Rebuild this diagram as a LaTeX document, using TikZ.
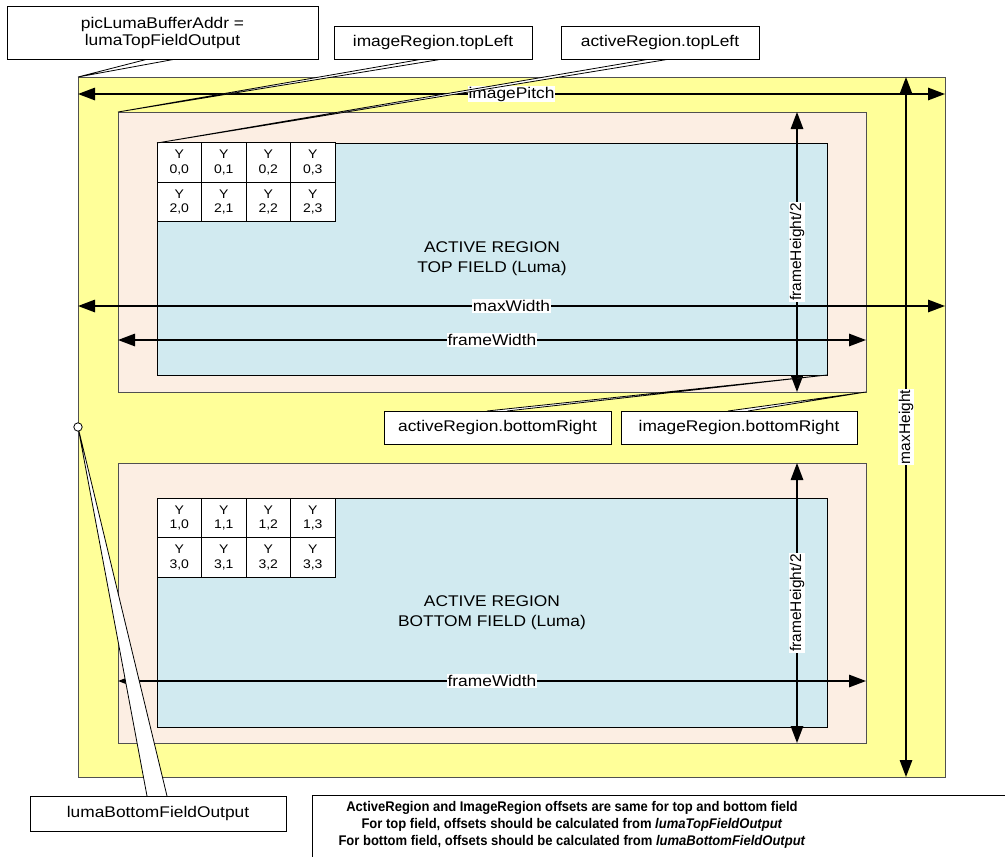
\documentclass[tikz,border=0pt]{standalone}
\usepackage{fontspec}
\setmainfont{Liberation Sans}[FakeStretch=1.12]
\newfontfamily\rotfont{Liberation Sans}
\newfontfamily\notefont{Liberation Sans}[FakeStretch=0.93]
\usetikzlibrary{arrows.meta,calc}
\definecolor{yel}{HTML}{FFFF99}
\definecolor{pnk}{HTML}{FCEEE3}
\definecolor{blu}{HTML}{D1EAF0}
\definecolor{edgegray}{HTML}{505050}
\begin{document}
\begin{tikzpicture}[x=1pt,y=-1pt,
  region/.style={draw=edgegray, line width=0.9pt, inner sep=0pt, outer sep=0pt, anchor=north west},
  cell/.style={draw=black, fill=white, line width=0.9pt, minimum width=44.5pt, minimum height=39.5pt, inner sep=0pt, outer sep=0pt, align=center, font=\fontsize{12.5}{14.5}\selectfont},
  callbox/.style={draw=black, fill=white, line width=0.8pt, inner sep=0pt, outer sep=0pt, align=center, font=\fontsize{15.5}{17}\selectfont},
  tail/.style={draw=black, fill=white, line width=0.8pt, line join=miter},
  dim/.style={line width=1.4pt, {Triangle[length=17pt,width=12.5pt]}-{Triangle[length=17pt,width=12.5pt]}},
  dimlab/.style={fill=white, inner sep=1pt, font=\fontsize{15.5}{17}\selectfont},
  rotlab/.style={fill=white, inner sep=1pt, rotate=90, font=\rotfont\fontsize{15.5}{17}\selectfont},
  bigtext/.style={align=center, font=\fontsize{15.5}{20}\selectfont},
]
\useasboundingbox (0,0) rectangle (1005,857);

% regions
\node[region, fill=yel, minimum width=867pt, minimum height=700pt] (buf) at (78,77) {};
\node[region, fill=pnk, minimum width=748pt, minimum height=280pt] (imgT) at (118,112) {};
\node[region, draw=black, fill=blu, minimum width=670pt, minimum height=232pt] (actT) at (157,143) {};
\node[region, fill=pnk, minimum width=748pt, minimum height=280pt] (imgB) at (118,463) {};
\node[region, draw=black, fill=blu, minimum width=670pt, minimum height=229pt] (actB) at (157,498) {};

% grids
\foreach \c [count=\i from 0] in {179.25,223.75,268.25,312.75}{
  \node[cell] (t0\i) at (\c,162.5) {Y\\0,\i};
  \node[cell] (t2\i) at (\c,202) {Y\\2,\i};
  \node[cell] (b1\i) at (\c,518) {Y\\1,\i};
  \node[cell] (b3\i) at (\c,557.5) {Y\\3,\i};
}

\node[bigtext] (lblT) at (492,259) {ACTIVE REGION\\TOP FIELD (Luma)};
\node[bigtext] (lblB) at (492,613) {ACTIVE REGION\\BOTTOM FIELD (Luma)};

% dimension arrows
\draw[dim] ([yshift=-17pt]buf.north west) -- ([yshift=-17pt]buf.north east) node[midway, dimlab] {imagePitch};
\draw[dim] ([xshift=-39pt]buf.north east) -- ([xshift=-39pt]buf.south east) node[midway, rotlab] {maxHeight};
\draw[dim] ([yshift=-229pt]buf.north west) -- ([yshift=-229pt]buf.north east) node[midway, dimlab] {maxWidth};
\draw[dim] ([xshift=-69pt]imgT.north east) -- ([xshift=-69pt]imgT.south east) node[midway, rotlab] {frameHeight/2};
\draw[dim] ([yshift=-228pt]imgT.north west) -- ([yshift=-228pt]imgT.north east) node[midway, dimlab] {frameWidth};
\draw[dim] ([xshift=-69pt]imgB.north east) -- ([xshift=-69pt]imgB.south east) node[midway, rotlab] {frameHeight/2};
\draw[dim] ([yshift=-218pt]imgB.north west) -- ([yshift=-218pt]imgB.north east) node[midway, dimlab] {frameWidth};

% callout tails
\coordinate (circ) at (78,427);
\draw[tail] (148,59) -- (buf.north west) -- (176,59);
\draw[tail] (423,59) -- (imgT.north west) -- (443,59);
\draw[tail] (650,59) -- (actT.north west) -- (670,59);
\draw[tail] (487,411) -- (actT.south east) -- (507,411);
\draw[tail] (728,411) -- (imgT.south east) -- (748,411);
\draw[tail] (147,796) -- (circ) -- (167,796);
\draw[black, fill=white, line width=0.8pt] (circ) circle (4.2pt);

% callout boxes
\node[callbox, minimum width=311pt, minimum height=53pt] (pic) at (162.5,32.5) {picLumaBufferAddr =\\lumaTopFieldOutput};
\node[callbox, minimum width=198pt, minimum height=33pt] (irtl) at (433,42.5) {imageRegion.topLeft};
\node[callbox, minimum width=198pt, minimum height=33pt] (artl) at (660,42.5) {activeRegion.topLeft};
\node[callbox, minimum width=227pt, minimum height=33pt] (arbr) at (497.5,427.5) {activeRegion.bottomRight};
\node[callbox, minimum width=236pt, minimum height=33pt] (irbr) at (739,427.5) {imageRegion.bottomRight};
\node[callbox, minimum width=256pt, minimum height=35pt] (lbfo) at (158,813.5) {lumaBottomFieldOutput};

% note box
\node[draw=black, fill=white, line width=0.8pt, inner sep=0pt, outer sep=0pt, anchor=north west, minimum width=698pt, minimum height=75pt] (note) at (312,795) {};
\node[align=center, font=\notefont\bfseries\fontsize{14}{17}\selectfont] (notetext) at (572,825)
  {ActiveRegion and ImageRegion offsets are same for top and bottom field\\
   For top field, offsets should be calculated from \textit{lumaTopFieldOutput}\\
   For bottom field, offsets should be calculated from \textit{lumaBottomFieldOutput}};
\end{tikzpicture}
\end{document}
